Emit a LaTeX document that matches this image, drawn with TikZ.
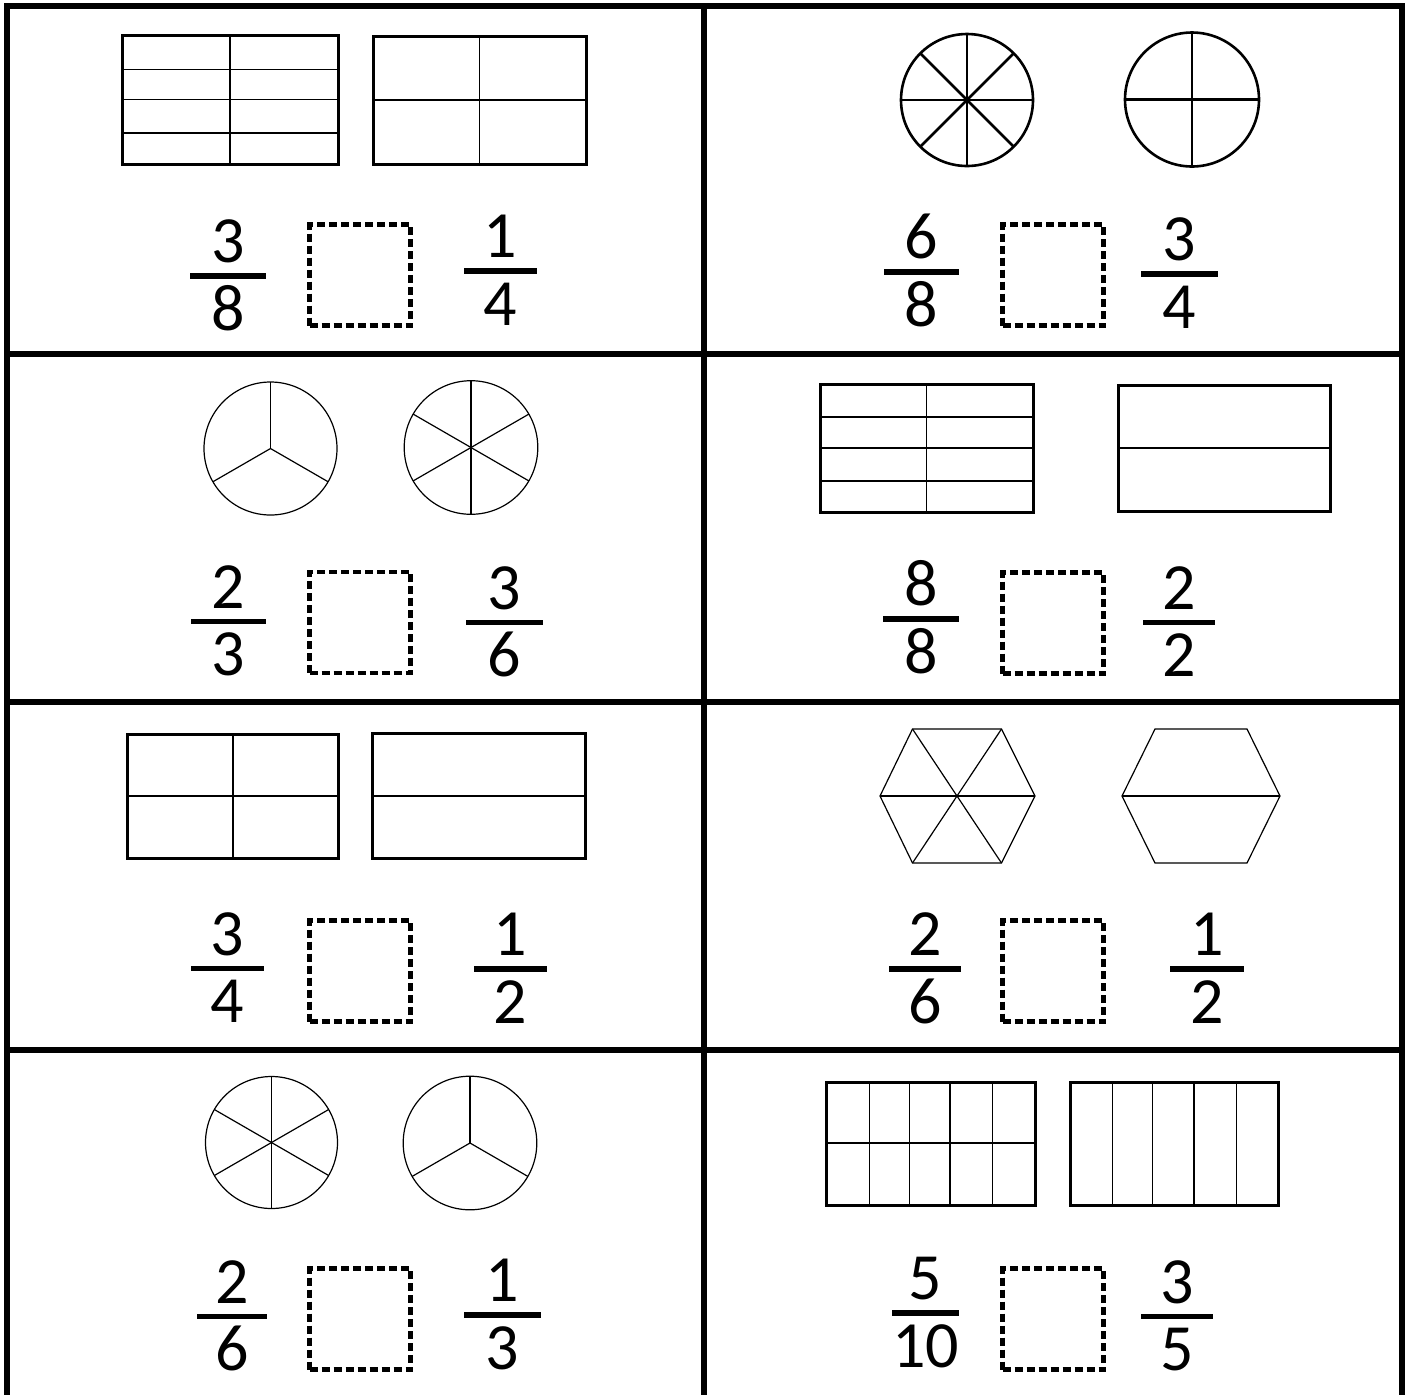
\documentclass[tikz,border=0pt]{standalone}
\usepackage{fontspec}
\setmainfont{Carlito}
\tikzset{
  gridline/.style={line width=3pt},
  rectout/.style={line width=1.5pt},
  rectin/.style={line width=0.8pt},
  thickpie/.style={line width=1.3pt},
  thinpie/.style={line width=0.6pt},
  digit/.style={font=\fontsize{33}{33}\selectfont, inner sep=0pt, anchor=base},
  fbar/.style={line width=2.7pt},
  ansbox/.style={draw, line width=2.2pt, dash pattern=on 4pt off 2pt, minimum width=50.5pt, minimum height=50.5pt, inner sep=0pt}
}
% #1 name, #2 cx, #3 bar y, #4 num, #5 den, #6 half bar width
\newcommand\myfrac[6]{%
  \node[digit] (#1n) at (#2, #3-13.5) {#4};
  \node[digit] (#1d) at (#2, #3+54) {#5};
  \draw[fbar] (#2-#6, #3) -- (#2+#6, #3);
}
\begin{document}
\begin{tikzpicture}[x=0.5pt, y=-0.5pt]
\useasboundingbox (0,0) rectangle (1409,1394);
\clip (0,0) rectangle (1409,1394);
\fill[white] (0,0) rectangle (1409,1394);

% grid
\draw[gridline] (7,1400) -- (7,6) -- (1402,6) -- (1402,1400);
\draw[gridline] (704,6) -- (704,1400);
\draw[gridline] (7,354) -- (1402,354);
\draw[gridline] (7,702) -- (1402,702);
\draw[gridline] (7,1050) -- (1402,1050);

% ---------- Panel 1 ----------
\draw[rectin] (229.9,35.5) -- (229.9,164.5);
\foreach \yy in {69.3,99.3,132.7} \draw[rectin] (122.5,\yy) -- (338,\yy);
\draw[rectout] (122.5,35.5) rectangle (338,164.5);
\draw[rectin] (479.5,36.5) -- (479.5,164.5);
\draw[rectin] (373.5,99.7) -- (586.5,99.7);
\draw[rectout] (373.5,36.5) rectangle (586.5,164.5);
\myfrac{pa}{228}{276}{3}{8}{38}
\node[ansbox] (ba) at (360,275) {};
\myfrac{pb}{500.5}{271}{1}{4}{36.5}

% ---------- Panel 2 ----------
\coordinate (c2a) at (967,100);
\draw[thickpie] (c2a) circle[radius=33pt];
\foreach \a in {0,45,90,135} \draw[thickpie] (c2a) ++(\a:33pt) -- ++(\a+180:66pt);
\coordinate (c2b) at (1192,99.5);
\draw[thickpie] (c2b) circle[radius=33.5pt];
\foreach \a in {0,90} \draw[thickpie] (c2b) ++(\a:33.5pt) -- ++(\a+180:67pt);
\myfrac{pc}{921.5}{272}{6}{8}{37.5}
\node[ansbox] (bb) at (1053,275) {};
\myfrac{pd}{1179.5}{274}{3}{4}{38.5}

% ---------- Panel 3 ----------
\coordinate (c3a) at (270.5,448.5);
\draw[thinpie] (c3a) circle[radius=33.25pt];
\foreach \a in {90,210,330} \draw[thinpie] (c3a) -- ++(\a:33.25pt);
\coordinate (c3b) at (471,447.5);
\draw[thinpie] (c3b) circle[radius=33.4pt];
\foreach \a in {30,90,150} \draw[thinpie] (c3b) ++(\a:33.4pt) -- ++(\a+180:66.8pt);
\myfrac{pe}{228.5}{621.7}{2}{3}{37.5}
\node[ansbox] (bc) at (360,622.5) {};
\myfrac{pf}{504.5}{622.7}{3}{6}{38.5}

% ---------- Panel 4 ----------
\draw[rectin] (926.5,384.5) -- (926.5,512.5);
\foreach \yy in {416.7,447.7,480.7} \draw[rectin] (820.5,\yy) -- (1033.5,\yy);
\draw[rectout] (820.5,384.5) rectangle (1033.5,512.5);
\draw[rectin] (1118.5,448) -- (1330.5,448);
\draw[rectout] (1118.5,385.5) rectangle (1330.5,511.5);
\myfrac{pg}{921}{619}{8}{8}{38}
\node[ansbox] (bd) at (1053,623) {};
\myfrac{ph}{1179}{622.7}{2}{2}{36}

% ---------- Panel 5 ----------
\draw[rectin] (233,734.5) -- (233,858.5);
\draw[rectin] (127.5,795.7) -- (338.5,795.7);
\draw[rectout] (127.5,734.5) rectangle (338.5,858.5);
\draw[rectin] (372.5,796) -- (585.5,796);
\draw[rectout] (372.5,733.5) rectangle (585.5,858.5);
\myfrac{pi}{227.5}{968.7}{3}{4}{36.5}
\node[ansbox] (be) at (360,971) {};
\myfrac{pj}{510.5}{969}{1}{2}{36.5}

% ---------- Panel 6 ----------
\draw[thinpie] (880,796) -- (912.5,729) -- (1001.5,729) -- (1035,796) -- (1001.5,863) -- (912.5,863) -- cycle;
\draw[thinpie] (880,796) -- (1035,796);
\draw[thinpie] (912.5,729) -- (1001.5,863);
\draw[thinpie] (1001.5,729) -- (912.5,863);
\draw[thinpie] (1122,796) -- (1155,729) -- (1247,729) -- (1280,796) -- (1247,863) -- (1155,863) -- cycle;
\draw[thinpie] (1122,796) -- (1280,796);
\myfrac{pk}{925}{969}{2}{6}{36}
\node[ansbox] (bf) at (1053,971) {};
\myfrac{pl}{1207}{969}{1}{2}{37}

% ---------- Panel 7 ----------
\coordinate (c7a) at (271.5,1142.5);
\draw[thinpie] (c7a) circle[radius=33pt];
\foreach \a in {30,90,150} \draw[thinpie] (c7a) ++(\a:33pt) -- ++(\a+180:66pt);
\coordinate (c7b) at (470,1143);
\draw[thinpie] (c7b) circle[radius=33.4pt];
\foreach \a in {90,210,330} \draw[thinpie] (c7b) -- ++(\a:33.4pt);
\myfrac{pm}{232}{1316.7}{2}{6}{35}
\node[ansbox] (bg) at (360,1319) {};
\myfrac{pn}{502.5}{1315}{1}{3}{38.5}

% ---------- Panel 8 ----------
\foreach \xx in {869.6,909.4,950,992.6} \draw[rectin] (\xx,1082.5) -- (\xx,1205.5);
\draw[rectin] (826.5,1142.7) -- (1035.5,1142.7);
\draw[rectout] (826.5,1082.5) rectangle (1035.5,1205.5);
\foreach \xx in {1112.4,1152.6,1193.8,1236.3} \draw[rectin] (\xx,1082.5) -- (\xx,1205.5);
\draw[rectout] (1070,1082.5) rectangle (1278.5,1205.5);
\myfrac{po}{925.5}{1313}{5}{10}{33.5}
\node[ansbox] (bh) at (1053,1319) {};
\myfrac{pp}{1177}{1316.7}{3}{5}{36}
\end{tikzpicture}
\end{document}
